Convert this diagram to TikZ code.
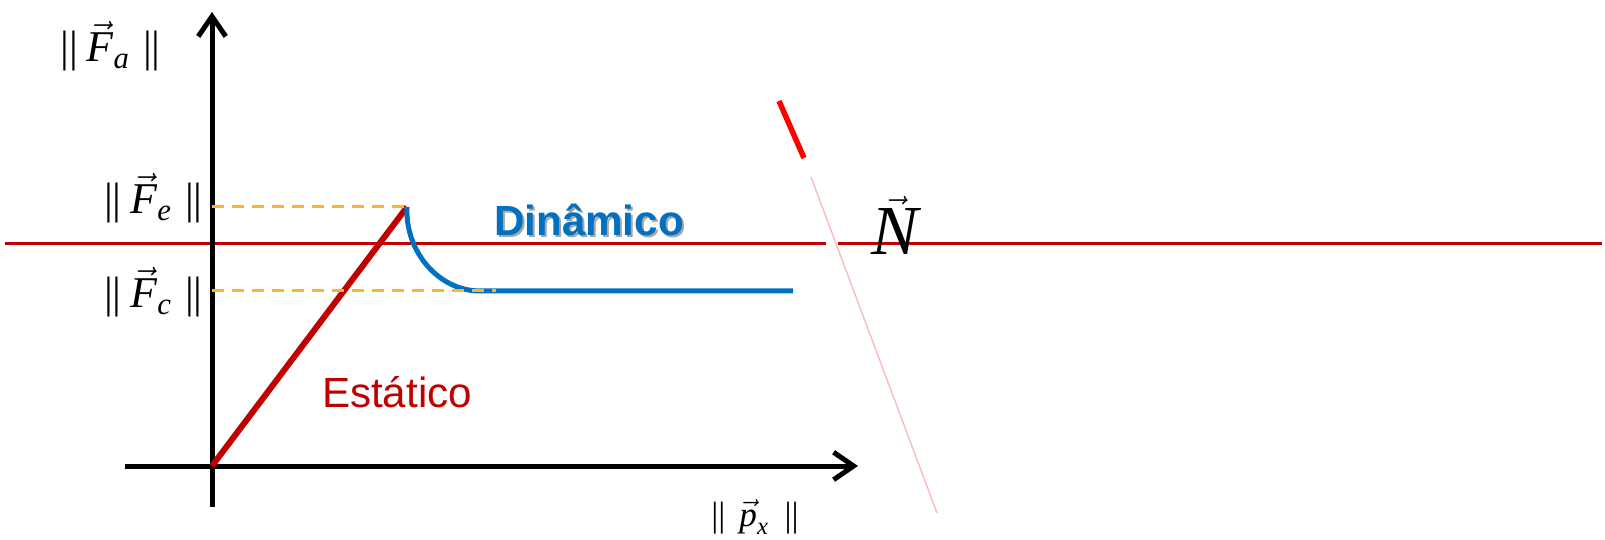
\documentclass[tikz,border=0pt]{standalone}
\usepackage{amsmath}
\usepackage{fontspec}
\setmainfont{Liberation Serif}
\setsansfont{Liberation Sans}
\usetikzlibrary{arrows.meta}
\definecolor{FricRed}{HTML}{C00000}
\definecolor{FricBlue}{HTML}{0070C0}
\definecolor{FricOrange}{HTML}{FFB22C}
\newcommand{\normof}[2]{$\text{||}\hspace{0.2em}\vec{\textit{#1}}_{\textit{#2}}\hspace{0.3em}\text{||}$}

\begin{document}
\begin{tikzpicture}[x=0.02cm,y=-0.02cm,
  axis/.style={line width=1mm,-{Straight Barb[length=4mm,width=5.5mm]}},
  guide/.style={draw=FricOrange,line width=0.6mm,dash pattern=on 2.4mm off 1.6mm},
  static/.style={draw=FricRed,line width=1.2mm},
  dynamic/.style={draw=FricBlue,line width=1mm},
  level/.style={draw=FricRed,line width=0.6mm},
  mlabel/.style={inner sep=0pt,font=\fontsize{25}{28}\selectfont},
  word/.style={inner sep=0pt,font=\sffamily\fontsize{24}{28}\selectfont},
  bold/.style={word,font=\sffamily\bfseries\fontsize{24}{28}\selectfont}
]
\useasboundingbox (0,0) rectangle (1605,540);
% points of the curve
\coordinate (O) at (212,466);
\coordinate (ytop) at (212,12);
\coordinate (ybot) at (212,507);
\coordinate (xleft) at (125,466);
\coordinate (xright) at (858,466);
\coordinate (peak) at (407,207);
\coordinate (knee) at (480,291);
\coordinate (flatend) at (793,291);
\coordinate (fcend) at (496,291);
% horizontal line
\coordinate (hl) at (5,244);
\coordinate (hg1) at (826,244);
\coordinate (hg2) at (838,244);
\coordinate (hr) at (1602,244);
\draw[level] (hl) -- (hg1);
\draw[level] (hg2) -- (hr);
% slanted line
\coordinate (s1) at (779,101);
\coordinate (s2) at (804,158);
\coordinate (s3) at (811,177);
\coordinate (s4) at (937,513);
\draw[draw=red,line width=1.1mm] (s1) -- (s2);
\draw[draw=red!30,line width=0.25mm] (s3) -- (s4);
% axes
\draw[axis] (ybot) -- (ytop);
\draw[axis] (xleft) -- (xright);
% static and dynamic parts
\draw[static] (O) -- (peak);
\draw[dynamic] (peak) .. controls (405,252) and (439,291) .. (knee) -- (flatend);
\draw[guide] (O |- peak) -- (peak);
\draw[guide] (O |- knee) -- (fcend);
% labels
\node[mlabel,anchor=base east] (fa) at (161,62) {\normof{F}{a}};
\node[mlabel,anchor=base east] (fe) at (203,214) {\normof{F}{e}};
\node[mlabel,anchor=base east] (fc) at (203,308) {\normof{F}{c}};
\node[mlabel,anchor=base,font=\fontsize{20}{24}\selectfont] (px) at (755,526)
  {$\text{||}\hspace{0.4em}\vec{\textit{p}}_{\textit{x}}\hspace{0.45em}\text{||}$};
\node[inner sep=0pt,anchor=base,font=\fontsize{40}{44}\selectfont] (n) at (895,255) {$\vec{\textit{N}}$};
\node[bold,text=black!35] (dinshadow) at (591,222) {Dinâmico};
\node[bold,text=FricBlue] (din) at (589,220) {Dinâmico};
\node[word,text=FricRed] (est) at (397,392) {Estático};
\end{tikzpicture}
\end{document}
